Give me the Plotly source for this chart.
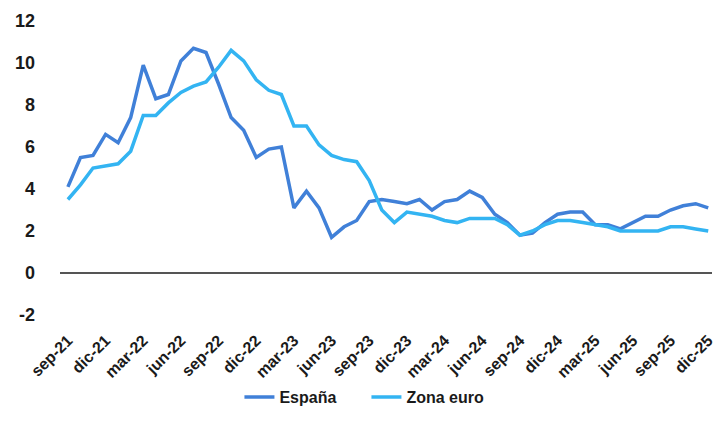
import plotly.graph_objects as go

# Monthly labels, sep-21 .. dic-25
month_names = ["ene", "feb", "mar", "abr", "may", "jun",
               "jul", "ago", "sep", "oct", "nov", "dic"]
months = []
for year in range(2021, 2026):
    for m, name in enumerate(month_names, start=1):
        if year == 2021 and m < 9:
            continue
        months.append(f"{name}-{str(year)[2:]}")

# Annual inflation rate (%)
espana = [4.1, 5.5, 5.6, 6.6, 6.2, 7.4, 9.9, 8.3, 8.5, 10.1, 10.7, 10.5,
          9.0, 7.4, 6.8, 5.5, 5.9, 6.0, 3.1, 3.9, 3.1, 1.7, 2.2, 2.5,
          3.4, 3.5, 3.4, 3.3, 3.5, 3.0, 3.4, 3.5, 3.9, 3.6, 2.8, 2.4,
          1.8, 1.9, 2.4, 2.8, 2.9, 2.9, 2.3, 2.3, 2.1, 2.4, 2.7, 2.7,
          3.0, 3.2, 3.3, 3.1]
zona_euro = [3.5, 4.2, 5.0, 5.1, 5.2, 5.8, 7.5, 7.5, 8.1, 8.6, 8.9, 9.1,
             9.8, 10.6, 10.1, 9.2, 8.7, 8.5, 7.0, 7.0, 6.1, 5.6, 5.4, 5.3,
             4.4, 3.0, 2.4, 2.9, 2.8, 2.7, 2.5, 2.4, 2.6, 2.6, 2.6, 2.3,
             1.8, 2.0, 2.3, 2.5, 2.5, 2.4, 2.3, 2.2, 2.0, 2.0, 2.0, 2.0,
             2.2, 2.2, 2.1, 2.0]

tick_labels = months[::3]
y_ticks = [-2, 0, 2, 4, 6, 8, 10, 12]
y_tick_text = [str(v) for v in y_ticks]

FONT = "Liberation Sans"

fig = go.Figure()
fig.add_trace(go.Scatter(x=months, y=espana, name="España", mode="lines",
                         line=dict(color="#4080d8", width=3.5)))
fig.add_trace(go.Scatter(x=months, y=zona_euro, name="Zona euro", mode="lines",
                         line=dict(color="#33b4f2", width=3.5)))

fig.update_layout(
    width=716, height=427,
    margin=dict(l=60, r=0, t=21, b=112),
    paper_bgcolor="white", plot_bgcolor="white",
    font=dict(family=FONT, color="#1a1a1a"),
    showlegend=True,
    legend=dict(orientation="h", x=0.47, xanchor="center", y=-0.279,
                yanchor="middle", font=dict(size=16, weight="bold"),
                itemwidth=30, entrywidth=82),
    xaxis=dict(type="category", range=[-0.63, 51.3],
               tickmode="array", tickvals=tick_labels, ticktext=tick_labels,
               tickangle=-45, tickfont=dict(size=16, weight="bold"),
               ticklabelstandoff=12,
               showgrid=False, zeroline=False, showline=False, ticks=""),
    yaxis=dict(range=[-2, 12], tickvals=y_ticks, ticktext=y_tick_text,
               tickfont=dict(size=18, weight="bold"),
               showgrid=False, zeroline=True, zerolinecolor="#555555",
               zerolinewidth=1.5, showline=False, ticks="",
               ticklabelstandoff=24),
)

fig.write_html("out.html")
